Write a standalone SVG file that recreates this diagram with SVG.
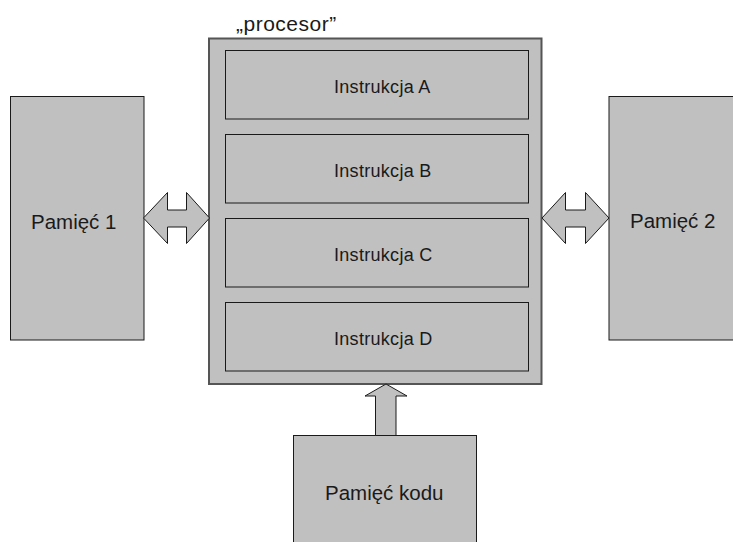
<svg xmlns="http://www.w3.org/2000/svg" width="733" height="542" viewBox="0 0 733 542">
  <style>
    .box { fill: #c0c0c0; stroke: #1a1a1a; stroke-width: 1; }
    .proc { fill: #c0c0c0; stroke: #555555; stroke-width: 2; }
    .arrow { fill: #c0c0c0; stroke: #1a1a1a; stroke-width: 1; stroke-linejoin: miter; }
    .lbl { font-family: "Liberation Sans", Arial, sans-serif; fill: #1a1a1a; }
    .ins { font-size: 18px; letter-spacing: 0.3px; }
    .mem { font-size: 20.5px; }
  </style>
  <rect width="733" height="542" fill="#ffffff"/>

  <g id="procesor">
    <rect class="proc" x="209" y="38.5" width="332.5" height="345.5"/>
    <text class="lbl" x="236" y="31" font-size="21" letter-spacing="0.5">„procesor”</text>
  </g>
  <g id="instrukcja-a">
    <rect class="box" x="225.5" y="50.5" width="303" height="68.5"/>
    <text class="lbl ins" x="334" y="92.7">Instrukcja A</text>
  </g>
  <g id="instrukcja-b">
    <rect class="box" x="225.5" y="134.5" width="303" height="68.5"/>
    <text class="lbl ins" x="334" y="176.7">Instrukcja B</text>
  </g>
  <g id="instrukcja-c">
    <rect class="box" x="225.5" y="218.5" width="303" height="68.5"/>
    <text class="lbl ins" x="334" y="260.7">Instrukcja C</text>
  </g>
  <g id="instrukcja-d">
    <rect class="box" x="225.5" y="302.5" width="303" height="68.5"/>
    <text class="lbl ins" x="334" y="344.5">Instrukcja D</text>
  </g>

  <g id="pamiec-1">
    <rect class="box" x="10.5" y="96.5" width="133.5" height="243.5"/>
    <text class="lbl mem" x="31" y="228.5">Pamięć 1</text>
  </g>
  <g id="pamiec-2">
    <rect class="box" x="609" y="96.5" width="130" height="243.5"/>
    <text class="lbl mem" x="630" y="228">Pamięć 2</text>
  </g>
  <g id="pamiec-kodu">
    <rect class="box" x="293.5" y="435.5" width="183" height="120"/>
    <text class="lbl mem" x="325" y="500">Pamięć kodu</text>
  </g>

  <g id="connectors">
    <polygon class="arrow" points="143.5,218 167.5,192.5 167.5,210 186.5,210 186.5,192.5 209.5,218 186.5,243.5 186.5,227 167.5,227 167.5,243.5"/>
    <polygon class="arrow" points="542,218 565.5,192.5 565.5,210 585.5,210 585.5,192.5 609,218 585.5,243.5 585.5,227 565.5,227 565.5,243.5"/>
    <polygon class="arrow" points="386,384 407,396 396,396 396,435.5 375.5,435.5 375.5,396 365,396"/>
  </g>
</svg>
